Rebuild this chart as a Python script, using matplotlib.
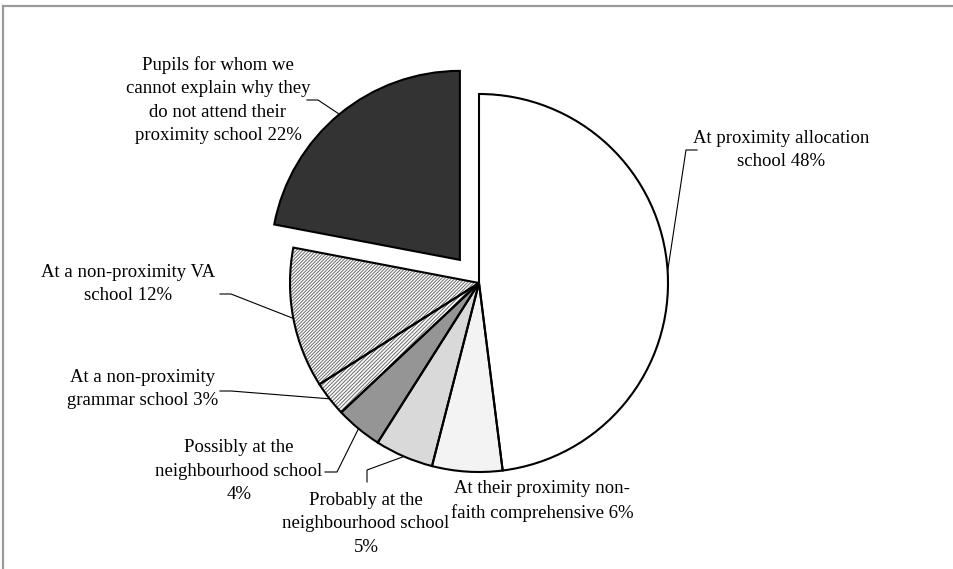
import numpy as np
import matplotlib
matplotlib.use("Agg")
import matplotlib.pyplot as plt
from matplotlib.lines import Line2D

# shares of pupils, clockwise from 12 o'clock
labels = [
    "At proximity allocation\nschool 48%",
    "At their proximity non-\nfaith comprehensive 6%",
    "Probably at the\nneighbourhood school\n5%",
    "Possibly at the\nneighbourhood school\n4%",
    "At a non-proximity\ngrammar school 3%",
    "At a non-proximity VA\nschool 12%",
    "Pupils for whom we\ncannot explain why they\ndo not attend their\nproximity school 22%",
]
shares = [48, 6, 5, 4, 3, 12, 22]

W, H = 954, 569
plt.rcParams['font.family'] = ['Liberation Serif', 'DejaVu Serif']
plt.rcParams['hatch.linewidth'] = 0.7

fig = plt.figure(figsize=(W / 100, H / 100), dpi=100)
ax = fig.add_axes([0, 0, 1, 1])

face = ['white', '#f3f3f3', '#d9d9d9', '#959595', 'white', 'white', '#333333']
hatch = [None, None, None, None, '/////////', '//////////', None]
explode = [0, 0, 0, 0, 0, 0, 30]   # pie explode is in data units (pixels here)
center = (479, H - 283)
R = 189

# fill + hatch layer
wedges, _ = ax.pie(shares, startangle=90, counterclock=False, colors=face,
                   explode=explode, center=center, radius=R, frame=True,
                   wedgeprops=dict(linewidth=0, edgecolor='#6a6a6a'))
for w, h in zip(wedges, hatch):
    if h:
        w.set_hatch(h)
# outline layer
ax.pie(shares, startangle=90, counterclock=False, explode=explode,
       center=center, radius=R, frame=True,
       wedgeprops=dict(fill=False, linewidth=1.5, edgecolor='black'))
ax.set_xlim(0, W)
ax.set_ylim(0, H)
ax.set_aspect('equal')
ax.axis('off')

# label block centres and leader knees (pixels, y down)
text_pos = [(781, 150), (542, 501), (366, 524), (239, 471), (143, 389),
            (128, 284), (218, 100)]
leaders = [
    [(697, 150), (686, 150)],
    None,
    [(367, 482), (367, 470)],
    [(325, 472), (337, 472)],
    [(220, 391), (231, 391)],
    [(220, 294), (231, 294)],
    [(307, 100), (318, 100)],
]

for w, lab, (tx, ty), ld in zip(wedges, labels, text_pos, leaders):
    ax.text(tx, H - ty, lab, ha='center', va='center', fontsize=13.5,
            linespacing=1.48, color='black')
    if ld:
        mid = np.radians((w.theta1 + w.theta2) / 2)
        cx, cy = w.center
        ex, ey = cx + w.r * np.cos(mid), cy + w.r * np.sin(mid)
        xs = [p[0] for p in ld] + [ex]
        ys = [H - p[1] for p in ld] + [ey]
        ax.plot(xs, ys, color='black', linewidth=0.8)

# grey frame on top and left
fig.add_artist(Line2D([3 / W, 1], [1 - 5.5 / H, 1 - 5.5 / H], color='#9a9a9a',
                      linewidth=1.6, transform=fig.transFigure))
fig.add_artist(Line2D([3.5 / W, 3.5 / W], [0, 1 - 5.5 / H], color='#9a9a9a',
                      linewidth=1.6, transform=fig.transFigure))

fig.savefig("out.png", dpi=100, facecolor='white')
